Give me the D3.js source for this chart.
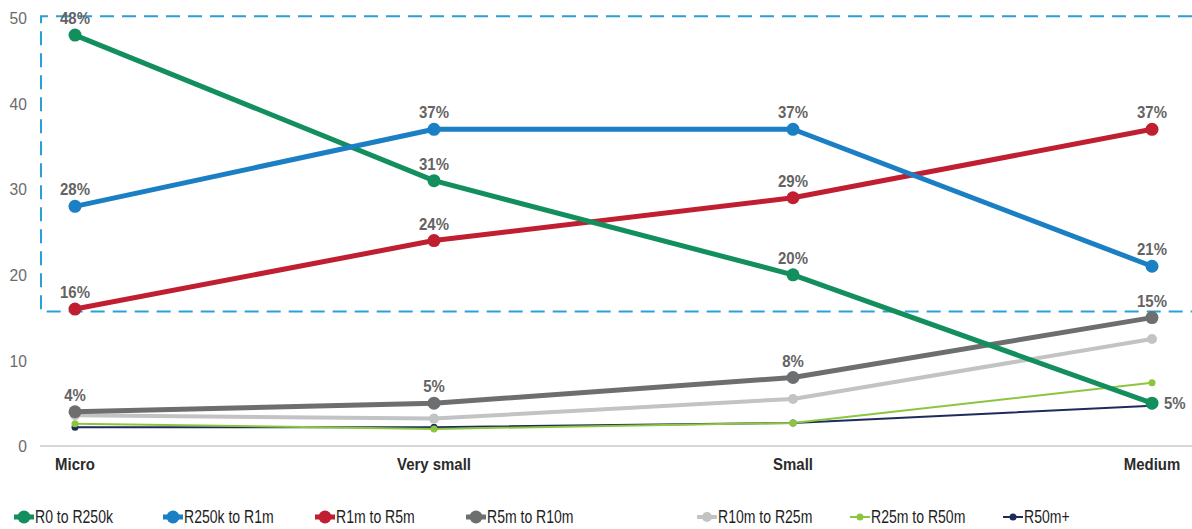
<!DOCTYPE html>
<html>
<head>
<meta charset="utf-8">
<script src="https://cdn.jsdelivr.net/npm/d3@7"></script>
<style>
  html, body { margin: 0; padding: 0; background: #fff; }
  svg { display: block; font-family: "Liberation Sans", Arial, sans-serif; }
</style>
</head>
<body>
<svg id="chart" width="1192" height="529"></svg>
<script>
// Business size categories along the x axis
const categories = ["Micro", "Very small", "Small", "Medium"];

// Share (%) of businesses per turnover band
const seriesNames = ["R0 to R250k", "R250k to R1m", "R1m to R5m", "R5m to R10m", "R10m to R25m", "R25m to R50m", "R50m+"];
const r0to250k   = [48, 31, 20, 5];
const r250kto1m  = [28, 37, 37, 21];
const r1mto5m    = [16, 24, 29, 37];
const r5mto10m   = [4, 5, 8, 15];
const r10mto25m  = [3.6, 3.2, 5.5, 12.5];
const r25mto50m  = [2.6, 2.0, 2.7, 7.4];
const r50mPlus   = [2.2, 2.2, 2.7, 4.7];

// Which series carry value labels
const labelled   = [true, true, true, true, false, false, false];

const yTicks = [0, 10, 20, 30, 40, 50];
// Highlight box spans this value range on the y axis
const boxRange = [15.7, 50.2];

const colors = ["#138f5e", "#1b7fc4", "#c01f32", "#6d6e70", "#c2c3c5", "#8cc63f", "#1d2c5b"];
const widths = [5, 5, 5, 5, 4, 2, 2];
const radii  = [6.5, 6.5, 6.5, 6.5, 5, 3.5, 3.5];

const values = [r0to250k, r250kto1m, r1mto5m, r5mto10m, r10mto25m, r25mto50m, r50mPlus];
const series = seriesNames.map((name, i) => ({
  name, color: colors[i], width: widths[i], r: radii[i], showLabel: labelled[i],
  points: categories.map((c, j) => ({ cat: c, v: values[i][j], idx: j }))
}));

const svg = d3.select("#chart");
const x = d3.scalePoint().domain(categories).range([75, 1152]);
const y = d3.scaleLinear().domain([0, 50]).range([446, 18]);

// Condensed-looking text: place with a transform and squeeze horizontally
function placeText(sel, fx, fy, sx) {
  sel.attr("x", 0).attr("y", 0)
     .attr("transform", (d, i) => `translate(${fx(d, i)},${fy(d, i)}) scale(${sx},1)`);
}

// Baseline
svg.append("line")
  .attr("x1", 40).attr("x2", 1192)
  .attr("y1", y(0)).attr("y2", y(0))
  .attr("stroke", "#c9c9c9").attr("stroke-width", 1.5);

// Y tick labels
svg.append("g").selectAll("text").data(yTicks).join("text")
  .attr("dy", "0.36em").attr("text-anchor", "end")
  .attr("font-size", 17).attr("fill", "#6b6b6b")
  .call(placeText, () => 27, d => y(d), 0.92)
  .text(d => d);

// Category labels
svg.append("g").selectAll("text").data(categories).join("text")
  .attr("text-anchor", "middle")
  .attr("font-size", 17).attr("font-weight", "bold").attr("fill", "#2b2b2b")
  .call(placeText, d => x(d), () => 470, 0.88)
  .text(d => d);

// Dashed highlight box (open on the right)
const bx = 41, bTop = y(boxRange[1]), bBot = y(boxRange[0]);
svg.append("path")
  .attr("d", `M1192,${bTop} H${bx} V${bBot} H1192`)
  .attr("fill", "none").attr("stroke", "#2a9fd8")
  .attr("stroke-width", 2).attr("stroke-dasharray", "14,8");

// Lines, drawn from the thin bottom series up
const line = d3.line().x(d => x(d.cat)).y(d => y(d.v));
const order = [6, 5, 4, 3, 2, 0, 1];
const g = svg.append("g");
order.forEach(i => {
  const s = series[i];
  g.append("path").datum(s.points)
    .attr("d", line).attr("fill", "none")
    .attr("stroke", s.color).attr("stroke-width", s.width)
    .attr("stroke-linejoin", "round");
  g.selectAll(null).data(s.points).join("circle")
    .attr("cx", d => x(d.cat)).attr("cy", d => y(d.v))
    .attr("r", s.r).attr("fill", s.color);
});

// Value labels (last green point sits to the right of its marker)
series.forEach((s, i) => {
  if (!s.showLabel) return;
  const side = d => i === 0 && d.idx === 3;
  svg.append("g").selectAll("text").data(s.points).join("text")
    .attr("dy", d => side(d) ? "0.36em" : "0")
    .attr("text-anchor", d => side(d) ? "start" : "middle")
    .attr("font-size", 17).attr("font-weight", "bold").attr("fill", "#636363")
    .call(placeText, d => side(d) ? x(d.cat) + 12 : x(d.cat), d => side(d) ? y(d.v) : y(d.v) - 11, 0.88)
    .text(d => d.v + "%");
});

// Legend
const legendX = [14, 163, 315, 466, 697, 850, 1003];
const lg = svg.append("g").attr("transform", "translate(0,517)");
series.forEach((s, i) => {
  const item = lg.append("g").attr("transform", `translate(${legendX[i]},0)`);
  item.append("line").attr("x1", 0).attr("x2", 20).attr("y1", 0).attr("y2", 0)
    .attr("stroke", s.color).attr("stroke-width", s.width);
  item.append("circle").attr("cx", 10).attr("cy", 0).attr("r", s.r).attr("fill", s.color);
  item.append("text").attr("dy", "0.36em")
    .attr("font-size", 18).attr("fill", "#1e1e1e")
    .call(placeText, () => 21, () => 0, 0.78)
    .text(s.name);
});
</script>
</body>
</html>
